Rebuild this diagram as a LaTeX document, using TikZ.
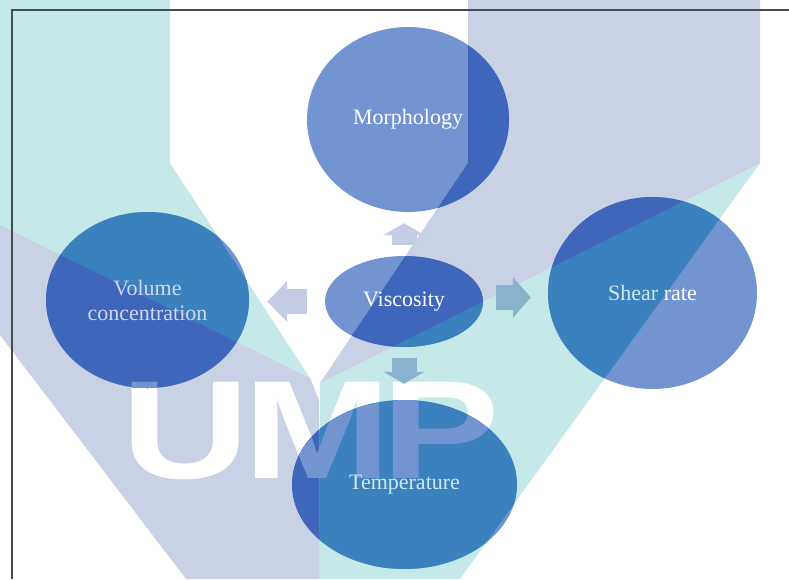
\documentclass[tikz,border=0pt]{standalone}
\usepackage{fontspec}
\usepackage{tikz}
\usetikzlibrary{shapes.geometric,arrows.meta}

\newfontfamily\rotulo{Liberation Serif}
\newfontfamily\marcafont{Liberation Sans}

\definecolor{wmteal}{RGB}{196,233,232}
\definecolor{wmlav}{RGB}{201,209,229}
\definecolor{bolabase}{RGB}{114,148,209}
\definecolor{bolateal}{RGB}{58,129,189}
\definecolor{bolalav}{RGB}{62,102,186}
\definecolor{setalav}{RGB}{196,204,228}
\definecolor{setateal}{RGB}{135,179,206}
\definecolor{txtteal}{RGB}{205,235,238}
\definecolor{txtlav}{RGB}{210,217,240}
\definecolor{moldura}{RGB}{70,75,80}

\pgfdeclarelayer{fundo}
\pgfsetlayers{fundo,main}

% faixas da marca d'agua (coordenadas em px, y para baixo)
\newcommand{\marcateal}{(0,0) -- (170,0) -- (170,163) -- (310,378) -- (0,225) -- cycle
  (760,163) -- (320,383) -- (319,579) -- (460,579) -- cycle}
\newcommand{\marcalav}{(468,0) -- (760,0) -- (760,163) -- (320,383) -- (468,163) -- cycle
  (0,225) -- (310,378) -- (319,400) -- (319,579) -- (186,579) -- (0,335) -- cycle}

% letras da marca
\newcommand{\letras}[1]{%
  \node[letra, text=#1] (ltU) at (186,478) {U};
  \node[letra, text=#1] (ltM) at (318,478) {M};
  \node[letra, text=#1] (ltP) at (441,478) {P};}

\begin{document}
\begin{tikzpicture}[
  x=1pt, y=-1pt,
  elipse/.style={ellipse, text=white, align=center, inner sep=0pt,
                 font=\rotulo\fontsize{22}{25}\selectfont},
  letra/.style={font=\marcafont\bfseries\fontsize{140}{140}\selectfont,
                inner sep=0pt, anchor=base, xscale=1.27},
  seta/.style={line width=25pt, -{Triangle[width=41pt, length=#1, line width=0pt]}},
]
\useasboundingbox (0,0) rectangle (789,579);

% ---- Elipses --------------------------------------------------------------
\node[elipse, minimum width=158pt, minimum height=91pt] (visc) at (404,301.5) {Viscosity};
\node[elipse, minimum width=202pt, minimum height=185pt] (morf) at (408,119.5) {Morphology};
\node[elipse, minimum width=203pt, minimum height=176pt, text=txtlav] (vol) at (147.5,300)
      {Volume\\concentration};
\node[elipse, minimum width=209pt, minimum height=192pt] (cis) at (652.5,293)
      {{\color{txtteal}Shear} rate};
\node[elipse, minimum width=225pt, minimum height=169pt, text=txtteal] (temp) at (404.5,484.5)
      {Temperature};

% ---- Marca d'agua e preenchimento das elipses ----------------------------
\begin{pgfonlayer}{fundo}
  \fill[white] (0,0) rectangle (789,579);
  \fill[wmteal] \marcateal;
  \fill[wmlav] \marcalav;
  \letras{white}
  % cada elipse escurece a marca que fica por baixo
  \foreach \n/\rx/\ry in {visc/79/45.5, morf/101/92.5, vol/101.5/88,
                          cis/104.5/96, temp/112.5/84.5} {
    \begin{scope}
      \clip (\n) ellipse [x radius=\rx, y radius=\ry];
      \fill[bolabase] (0,0) rectangle (789,579);
      \fill[bolateal] \marcateal;
      \fill[bolalav] \marcalav;
      \letras{bolabase}
    \end{scope}
  }
\end{pgfonlayer}

% ---- Setas ----------------------------------------------------------------
\draw[seta=12pt, setalav, shorten <=10.5pt, shorten >=11pt]
      (visc.north) -- (visc.north |- morf.south);
\draw[seta=20pt, setalav, shorten <=18pt, shorten >=18pt]
      (visc.west) -- (visc.west -| vol.east);
\draw[seta=18pt, setateal, shorten <=13pt, shorten >=17pt]
      ([yshift=4pt]visc.east) -- ([yshift=4pt]visc.east -| cis.west);
\draw[seta=12pt, setateal, shorten <=11pt, shorten >=16pt]
      (visc.south) -- (visc.south |- temp.north);

% moldura
\draw[moldura, line width=1.2pt] (789,10) -- (12,10) -- (12,579);

\end{tikzpicture}
\end{document}
